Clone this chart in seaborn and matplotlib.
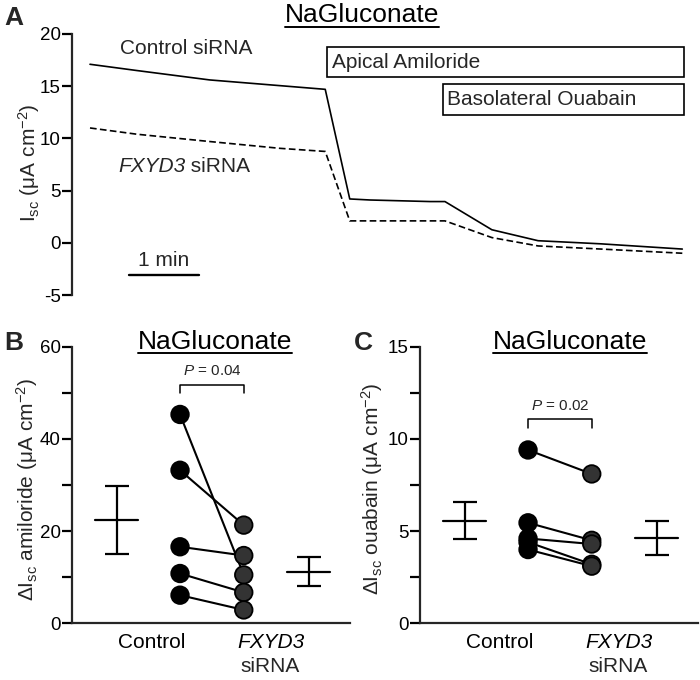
import numpy as np
import pandas as pd
import matplotlib
matplotlib.use("Agg")
import matplotlib.pyplot as plt
import seaborn as sns
from matplotlib.lines import Line2D
from matplotlib.patches import Rectangle
import matplotlib.transforms as mtransforms

sns.set_theme(style="ticks")
plt.rcParams['font.family'] = ['Liberation Sans', 'DejaVu Sans']
plt.rcParams['mathtext.fontset'] = 'custom'
plt.rcParams['mathtext.rm'] = 'Liberation Sans'
plt.rcParams['mathtext.it'] = 'Liberation Sans:italic'
plt.rcParams['mathtext.bf'] = 'Liberation Sans:bold'
plt.rcParams['axes.unicode_minus'] = False

# ---------------- data ----------------
# Panel A: traces (time in min, Isc in uA cm-2)
ctrl_t = [0.0, 0.67, 1.71, 3.36, 3.71, 4.0, 4.86, 5.07, 5.74, 6.4, 7.3, 8.46]
ctrl_i = [17.1, 16.5, 15.6, 14.7, 4.2, 4.1, 3.95, 3.95, 1.25, 0.2, -0.1, -0.6]
fx_t = [0.0, 0.67, 1.71, 2.71, 3.36, 3.71, 5.07, 5.74, 6.4, 7.3, 8.46]
fx_i = [11.0, 10.4, 9.7, 9.05, 8.75, 2.1, 2.1, 0.5, -0.3, -0.6, -1.0]

groups = ["Control", "FXYD3 siRNA"]
# Panel B: amiloride-sensitive current, paired
amil_ctrl = [45.3, 33.2, 16.6, 10.8, 6.1]
amil_fx = [10.5, 21.3, 14.7, 6.7, 2.9]
# Panel C: ouabain-sensitive current, paired
ouab_ctrl = [9.4, 5.45, 4.6, 4.4, 4.0]
ouab_fx = [8.1, 4.5, 4.3, 3.2, 3.1]

p_amil = "0.04"
p_ouab = "0.02"

# ---------------- figure ----------------
fig = plt.figure(figsize=(7.0, 6.8), dpi=100)
W, H = 700, 680

def ax_px(l, r, top, bot):
    return fig.add_axes([l / W, 1 - bot / H, (r - l) / W, (bot - top) / H])

LW_AX = 1.6
TICK_FS = 13.5
LAB_FS = 15

def style_axes(ax, xaxis=True):
    for s in ["top", "right"]:
        ax.spines[s].set_visible(False)
    ax.spines["left"].set_linewidth(LW_AX)
    ax.spines["bottom"].set_linewidth(LW_AX)
    ax.tick_params(axis="y", which="both", length=7, width=LW_AX, labelsize=TICK_FS, pad=1,
                   color="black", labelcolor="black")
    ax.tick_params(axis="x", length=0, labelsize=LAB_FS, pad=7, labelcolor="black")
    if not xaxis:
        ax.spines["bottom"].set_visible(False)
        ax.set_xticks([])
    ax.set_facecolor("white")

def underline_title(text, xc_px, y_px, fs=19):
    t = fig.text(xc_px / W, 1 - y_px / H, text, ha="center", va="baseline", fontsize=fs, color="black")
    fig.canvas.draw()
    bb = t.get_window_extent(renderer=fig.canvas.get_renderer())
    x0, x1 = bb.x0 / W, bb.x1 / W
    yl = (1 - y_px / H) - 4.5 / H
    fig.add_artist(Line2D([x0, x1], [yl, yl], transform=fig.transFigure, color="black", lw=1.4))

# ---------- Panel A ----------
axA = ax_px(72, 690, 34, 295)
dfA = pd.DataFrame({"t": ctrl_t + fx_t, "I": ctrl_i + fx_i,
                    "g": ["Control siRNA"] * len(ctrl_t) + ["FXYD3 siRNA"] * len(fx_t)})
sns.lineplot(data=dfA, x="t", y="I", hue="g", style="g", palette=["black", "black"],
             dashes={"Control siRNA": "", "FXYD3 siRNA": (4, 2)}, sort=False,
             estimator=None, linewidth=1.2, legend=False, ax=axA)
axA.set_xlim(-0.257, 8.57)
axA.set_ylim(-5, 20)
axA.set_yticks([-5, 0, 5, 10, 15, 20])
style_axes(axA, xaxis=False)
axA.set_xlabel("")
axA.set_ylabel(r"I$_{\rm sc}$ (μA cm$^{-2}$)", fontsize=LAB_FS)
axA.yaxis.set_label_coords(-0.049, 0.506)
axA.text(0.43, 18.6, "Control siRNA", fontsize=LAB_FS, ha="left", va="center")
t1 = axA.text(0.40, 7.27, "FXYD3", fontsize=LAB_FS, ha="left", va="center", style="italic")
axA.annotate(" siRNA", xy=(1, 0), xycoords=t1, ha="left", va="bottom", fontsize=LAB_FS)
# treatment boxes
axA.add_patch(Rectangle((3.386, 15.87), 8.486 - 3.386, 18.74 - 15.87, fill=False, ec="black", lw=1.2))
axA.text(3.45, 17.3, "Apical Amiloride", fontsize=LAB_FS, ha="left", va="center")
axA.add_patch(Rectangle((5.043, 12.24), 8.486 - 5.043, 15.2 - 12.24, fill=False, ec="black", lw=1.2))
axA.text(5.10, 13.7, "Basolateral Ouabain", fontsize=LAB_FS, ha="left", va="center")
# scale bar (1 min)
axA.plot([0.557, 1.557], [-3.05, -3.05], color="black", lw=1.7)
axA.text(1.057, -1.65, "1 min", fontsize=LAB_FS, ha="center", va="center")

# ---------- Panels B & C ----------
POS_CTRL, POS_FX = 0.24, 0.775
POS_MCTRL, POS_MFX = -0.29, 1.32

def paired_panel(ax, c_vals, f_vals, ylim, major, minor, ylabel, lab_x, lab_y,
                 ptxt, br_y, br_dy, ptxt_y):
    n = len(c_vals)
    df = pd.DataFrame({
        "x": [POS_CTRL] * n + [POS_FX] * n,
        "y": list(c_vals) + list(f_vals),
        "pair": list(range(n)) * 2,
        "grp": [groups[0]] * n + [groups[1]] * n,
    })
    sns.lineplot(data=df, x="x", y="y", units="pair", estimator=None, color="black",
                 linewidth=1.5, legend=False, ax=ax, sort=False)
    sns.scatterplot(data=df, x="x", y="y", hue="grp", palette=["black", "#333333"],
                    s=160, edgecolor="black", linewidth=1.3, legend=False, ax=ax, zorder=3)
    # mean +/- SEM
    for vals, pos in [(c_vals, POS_MCTRL), (f_vals, POS_MFX)]:
        v = np.asarray(vals, float)
        m = v.mean()
        sem = v.std(ddof=1) / np.sqrt(len(v))
        ax.errorbar([pos], [m], yerr=[sem], fmt="none", ecolor="black", elinewidth=1.6,
                    capsize=8.3, capthick=1.6)
        ax.plot([pos - 0.18, pos + 0.18], [m, m], color="black", lw=1.6)
    ax.set_xlim(-0.667, 1.667)
    ax.set_ylim(*ylim)
    ax.set_yticks(major)
    ax.set_yticks(minor, minor=True)
    style_axes(ax)
    ax.set_xticks([0, 1])
    ax.set_xticklabels(["Control", "FXYD3"], fontsize=LAB_FS)
    ax.get_xticklabels()[1].set_style("italic")
    trans = mtransforms.blended_transform_factory(ax.transData, ax.transAxes)
    ax.text(1, -0.156, "siRNA", transform=trans, ha="center", va="center", fontsize=LAB_FS)
    ax.set_xlabel("")
    ax.set_ylabel(ylabel, fontsize=LAB_FS)
    ax.yaxis.set_label_coords(lab_x, lab_y)
    # significance bracket
    ax.plot([POS_CTRL, POS_CTRL, POS_FX, POS_FX], [br_y - br_dy, br_y, br_y, br_y - br_dy],
            color="black", lw=1.1)
    ax.text((POS_CTRL + POS_FX) / 2, ptxt_y, r"$\mathit{P}$ = " + ptxt, fontsize=11,
            ha="center", va="center")

axB = ax_px(72, 350, 346.7, 623.3)
paired_panel(axB, amil_ctrl, amil_fx, (0, 60), [0, 20, 40, 60], [10, 30, 50],
             r"$\mathit{Δ}$I$_{\rm sc}$ amiloride (μA cm$^{-2}$)", -0.115, 0.482,
             p_amil, 51.7, 1.8, 54.8)

axC = ax_px(420, 698, 346.7, 623.3)
paired_panel(axC, ouab_ctrl, ouab_fx, (0, 15), [0, 5, 10, 15], [2.5, 7.5, 12.5],
             r"$\mathit{Δ}$I$_{\rm sc}$ ouabain (μA cm$^{-2}$)", -0.125, 0.487,
             p_ouab, 11.1, 0.5, 11.8)

# panel letters
fig.text(4 / W, 1 - 25 / H, "A", fontsize=19, fontweight="bold", ha="left", va="baseline")
fig.text(4 / W, 1 - 350 / H, "B", fontsize=19, fontweight="bold", ha="left", va="baseline")
fig.text(354 / W, 1 - 350 / H, "C", fontsize=19, fontweight="bold", ha="left", va="baseline")

# titles
underline_title("NaGluconate", 362, 22)
underline_title("NaGluconate", 215, 349)
underline_title("NaGluconate", 570, 349)

fig.savefig("out.png", dpi=100, facecolor="white")
